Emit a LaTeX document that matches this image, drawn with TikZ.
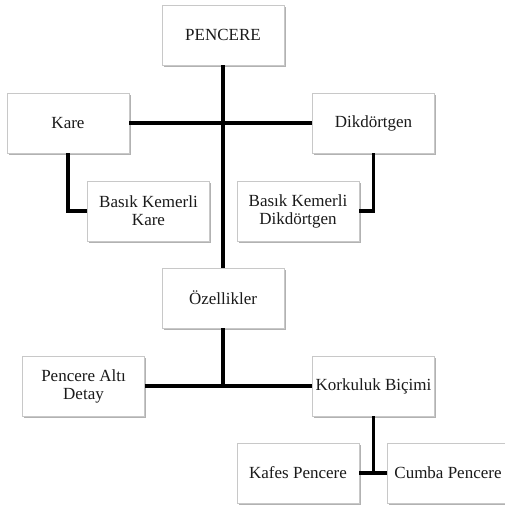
\documentclass[tikz,border=0pt]{standalone}
\usepackage{fontspec}
\setmainfont{Liberation Serif}
\usetikzlibrary{shadows}
\definecolor{boxline}{HTML}{C8C8C8}
\definecolor{txt}{HTML}{1A1A1A}
\tikzset{
  box/.style={draw=boxline, line width=0.8pt, fill=white, minimum width=122pt, minimum height=60pt,
    inner sep=0pt, align=center, text=txt, font=\fontsize{17}{18}\selectfont,
    drop shadow={shadow xshift=1.6pt, shadow yshift=-1.6pt, fill=black, opacity=0.3}},
  conn/.style={line width=3.3pt, black}
}
\begin{document}
\begin{tikzpicture}[x=1pt,y=-1pt]
\useasboundingbox (0,0) rectangle (505,509);
\node[box] (pen) at (223,35) {PENCERE};
\node[box] (kare) at (68,123) {Kare};
\node[box] (dik) at (373.5,123) {Dikdörtgen};
\node[box] (bkk) at (148.5,211) {Basık Kemerli\\Kare};
\node[box] (bkd) at (298,211) {Basık Kemerli\\Dikdörtgen};
\node[box] (oz) at (223,298) {Özellikler};
\node[box] (pad) at (83.5,386) {Pencere Altı\\Detay};
\node[box] (kor) at (373.5,386) {Korkuluk Biçimi};
\node[box] (kaf) at (298,473) {Kafes Pencere};
\node[box] (cum) at (448,473) {Cumba Pencere};
\draw[conn] (pen.south) -- (oz.north);
\draw[conn] (kare.east) -- (dik.west);
\draw[conn] (kare.south) |- (bkk.west);
\draw[conn] (dik.south) |- (bkd.east);
\draw[conn] (oz.south) -- (oz.south |- pad.east);
\draw[conn] (pad.east) -- (kor.west);
\draw[conn] (kor.south) -- (kor.south |- kaf.east);
\draw[conn] (kaf.east) -- (cum.west);
\end{tikzpicture}
\end{document}
